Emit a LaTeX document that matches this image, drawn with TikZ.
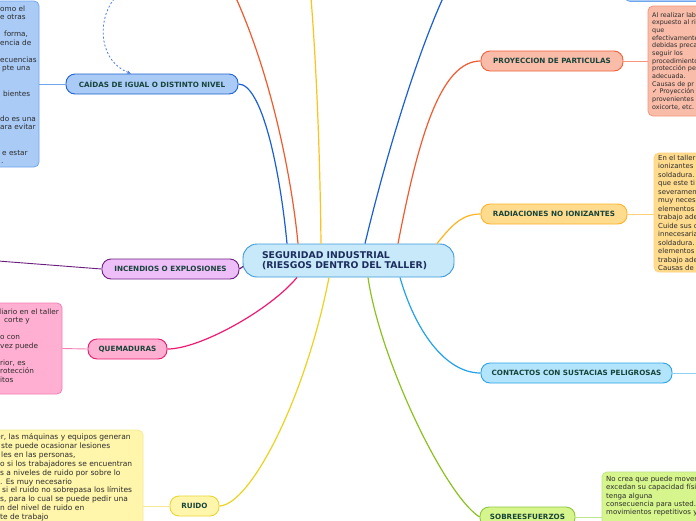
\documentclass[tikz,border=0pt]{standalone}
\usepackage{fontspec}
\setmainfont{DejaVu Sans}
\usetikzlibrary{arrows.meta,calc}
\definecolor{cBlue}{HTML}{A9CBF6}
\definecolor{cBlueD}{HTML}{1F62D0}
\definecolor{cBlueL}{HTML}{6EA6EE}
\definecolor{cPurp}{HTML}{EDBEF8}
\definecolor{cPurpD}{HTML}{6C1F7F}
\definecolor{cPink}{HTML}{FFAFD2}
\definecolor{cPinkD}{HTML}{E8186C}
\definecolor{cPinkL}{HTML}{F47DB2}
\definecolor{cYel}{HTML}{FFF6AC}
\definecolor{cYelD}{HTML}{EBD531}
\definecolor{cYelL}{HTML}{F6EA94}
\definecolor{cGrn}{HTML}{D6F58C}
\definecolor{cGrnD}{HTML}{8DC63F}
\definecolor{cGrnL}{HTML}{BFE58A}
\definecolor{cCyan}{HTML}{B2E5FB}
\definecolor{cCyanD}{HTML}{2BA3E6}
\definecolor{cCyanL}{HTML}{8ED0F3}
\definecolor{cOra}{HTML}{FFDB8E}
\definecolor{cOraD}{HTML}{FFB32A}
\definecolor{cOraL}{HTML}{FFD27A}
\definecolor{cSal}{HTML}{F9BCA9}
\definecolor{cSalD}{HTML}{F0603A}
\definecolor{cSalL}{HTML}{F5957A}
\definecolor{cCen}{HTML}{C7E9FA}
\definecolor{cCenD}{HTML}{3E99DA}
\definecolor{labtxt}{HTML}{17443A}
\definecolor{centxt}{HTML}{1C2C5C}
\definecolor{bodytxt}{HTML}{2B2B2B}
\definecolor{lnBlue}{HTML}{1A5FD6}
\definecolor{lnOrg}{HTML}{F25A2E}
\definecolor{lnYel}{HTML}{FFC21A}
\definecolor{lnRuido}{HTML}{EBD320}
\definecolor{lnGrn}{HTML}{8BC21F}
\definecolor{lnCyan}{HTML}{22A2E8}
\definecolor{lnRad}{HTML}{FFB41E}
\definecolor{lnPink}{HTML}{EE1A72}
\definecolor{lnPurp}{HTML}{6A1D7E}
\definecolor{dashBlue}{HTML}{4A7BE0}
\begin{document}
\begin{tikzpicture}[x=1pt,y=-1pt,
  branch/.style={draw, rounded corners=9pt, line width=0.9pt, minimum height=20pt, inner sep=0pt,
    font=\fontsize{7.2}{8}\selectfont\bfseries, text=labtxt},
  notebox/.style={rounded corners=5pt, line width=0.8pt, inner sep=0pt},
  conn/.style={line width=1.2pt},
  link/.style={line width=0.9pt},
  bodyA/.style={anchor=base west, inner sep=0pt, text=bodytxt, font=\fontsize{7.3}{8}\selectfont},
  bodyY/.style={anchor=base west, inner sep=0pt, text=bodytxt, font=\fontsize{7.5}{8}\selectfont},
  bodyS/.style={anchor=base west, inner sep=0pt, text=bodytxt, font=\fontsize{6.4}{7}\selectfont},
  bodyR/.style={anchor=base west, inner sep=0pt, text=bodytxt, font=\fontsize{6.9}{7}\selectfont},
  bodyG/.style={anchor=base west, inner sep=0pt, text=bodytxt, font=\fontsize{7}{8}\selectfont}]
\useasboundingbox (0,0) rectangle (696,520);
\fill[white] (0,0) rectangle (696,520);

% note boxes
\node[notebox, fill=cBlue, draw=cBlueL, minimum width=95pt, minimum height=41pt] (topbox) at (672.5,-19) {};
\node[notebox, fill=cBlue, draw=cBlueL, minimum width=49pt, minimum height=166pt] (cbox) at (14.5,84) {};
\node[notebox, fill=cPink, draw=cPinkL, minimum width=72pt, minimum height=91pt] (qbox) at (26,348.5) {};
\node[notebox, fill=cYel, draw=cYelL, minimum width=153pt, minimum height=152pt] (rbox) at (66.5,506) {};
\node[notebox, fill=cSal, draw=cSalL, minimum width=62pt, minimum height=110pt] (pbox) at (679,61) {};
\node[notebox, fill=cOra, draw=cOraL, minimum width=56pt, minimum height=119pt] (radbox) at (682,212.5) {};
\node[notebox, fill=cGrn, draw=cGrnL, minimum width=100pt, minimum height=90pt] (sbox) at (652,517) {};

% central node
\node[draw=cCenD, fill=cCen, line width=0.9pt, rounded corners=14pt, minimum height=33pt,
  text width=173pt, inner xsep=19pt, inner ysep=0pt, align=left,
  font=\fontsize{9.3}{10.5}\selectfont\bfseries, text=centxt] (central) at (348.5,260.5)
  {SEGURIDAD INDUSTRIAL\\(RIESGOS DENTRO DEL TALLER)};

% branch nodes
\node[branch, fill=cBlue, draw=cBlueD, minimum width=172pt] (caidas) at (152,84) {CAÍDAS DE IGUAL O DISTINTO NIVEL};
\node[branch, fill=cPurp, draw=cPurpD, minimum width=137pt] (incendios) at (170.5,269) {INCENDIOS O EXPLOSIONES};
\node[branch, fill=cPink, draw=cPinkD, minimum width=79pt] (quem) at (127.5,349) {QUEMADURAS};
\node[branch, fill=cYel, draw=cYelD, minimum width=49pt] (ruido) at (194.5,506) {RUIDO};
\node[branch, fill=cGrn, draw=cGrnD, minimum width=95pt] (sobre) at (527.5,517) {SOBREESFUERZOS};
\node[branch, fill=cCyan, draw=cCyanD, minimum width=191pt] (contactos) at (576.5,373) {CONTACTOS CON SUSTACIAS PELIGROSAS};
\node[branch, fill=cOra, draw=cOraD, minimum width=146pt] (radia) at (554,214) {RADIACIONES NO IONIZANTES};
\node[branch, fill=cSal, draw=cSalD, minimum width=142pt] (proy) at (552,61) {PROYECCION DE PARTICULAS};

% free ends
\coordinate (offOrg) at (236,-2);
\coordinate (offYel) at (311,-2);
\coordinate (offBlue) at (443,-2);
\coordinate (contR) at (700,373);
\coordinate (incL) at (-2,261);
\coordinate (dashS) at (114,-1);
\coordinate (dashE) at (131,73.5);

% links node -> note
\draw[cBlueL, link] (caidas.west) -- (cbox.east);
\draw[cPinkL, link] (quem.west) -- (qbox.east);
\draw[cYelL, link] (ruido.west) -- (rbox.east);
\draw[cSalL, link] (proy.east) -- (pbox.west);
\draw[cOraL, link] (radia.east) -- (radbox.west |- radia.east);
\draw[cGrnL, link] (sobre.east) -- (sbox.west);
\draw[cCyanL, link] (contactos.east) -- (contR);
\draw[lnPurp, line width=0.9pt] (incendios.west) -- (incL);

% central connectors
\draw[lnBlue, conn] (caidas.east) .. controls (262,84) and (280,170) .. ($(central.north)+(-61.5,0)$);
\draw[lnPurp, conn] (incendios.east) -- ($(central.west)+(0.5,6)$);
\draw[lnPink, conn] (quem.east) .. controls (200,349) and (270,310) .. ($(central.south)+(-51.5,0)$);
\draw[lnRuido, conn] (ruido.east) .. controls (250,505) and (305,400) .. ($(central.south)+(-19.5,0)$);
\draw[lnGrn, conn] ($(central.south)+(19.5,0)$) .. controls (380,360) and (445,495) .. (sobre.west);
\draw[lnCyan, conn] ($(central.south)+(51.5,0)$) .. controls (415,330) and (445,373) .. (contactos.west);
\draw[lnRad, conn] ($(central.north)+(88.5,0)$) .. controls (452,225) and (462,214) .. (radia.west);
\draw[lnOrg, conn] ($(central.north)+(49.5,0)$) .. controls (418,140) and (440,61) .. (proy.west);
\draw[lnBlue, conn] ($(central.north)+(16.5,0)$) .. controls (385,160) and (415,60) .. (offBlue);
\draw[lnYel, conn] ($(central.north)+(-27.5,0)$) .. controls (320,150) and (316,60) .. (offYel);
\draw[lnOrg, conn] ($(central.north)+(-50.5,0)$) .. controls (293,190) and (275,85) .. (offOrg);

% dashed relation
\draw[dashBlue, line width=0.8pt, dash pattern=on 2pt off 2pt, -{Stealth[length=4pt,width=3.5pt]}]
  (dashS) .. controls (96,22) and (100,62) .. (dashE);

% note texts: caidas
\foreach \xx/\yy/\tt [count=\i] in {0/11.5/omo el, 0/19.95/e otras, 4/36.85/{forma,}, 0/45.3/encia de,
  0/62.2/ecuencias, 2/70.65/pte una, 3/96/bientes, 0/121.35/do es una, 0/129.8/ara evitar,
  2/155.15/e estar, 1/163.6/.}
  {\node[bodyA] (tc\i) at (\xx,\yy) {\tt};}
% quemaduras
\foreach \xx/\yy/\tt [count=\i] in {-3.5/314.5/diario en el taller, 4/322.95/corte y, 0/339.85/o con,
  0/348.3/vez puede, 0/365.2/{rior, es}, 0/373.65/rotección, 0/382.1/itos}
  {\node[bodyA] (tq\i) at (\xx,\yy) {\tt};}
% ruido
\foreach \xx/\yy/\tt [count=\i] in {-4/439.5/{er, las máquinas y equipos generan}, 1/448.4/ste puede ocasionar lesiones,
  1/457.3/{les en las personas,}, 0/466.2/o si los trabajadores se encuentran,
  0/475.1/s a niveles de ruido por sobre lo, 0/484/. Es muy necesario,
  2/492.9/si el ruido no sobrepasa los límites, 0/501.8/{s, para lo cual se puede pedir una},
  0/510.7/n del nivel de ruido en, 0/519.6/te de trabajo}
  {\node[bodyY] (tr\i) at (\xx,\yy) {\tt};}
% proyeccion
\foreach \tt [count=\i] in {Al realizar lab, expuesto al ri, que, efectivamente, debidas precau, seguir los,
  procedimiento, protección pe, adecuada., Causas de pr, ✓ Proyección, provenientes, {oxicorte, etc.}}
  {\node[bodyS] (tp\i) at (652,{17+7.67*(\i-1)}) {\tt};}
% radiaciones
\foreach \tt [count=\i] in {En el taller, ionizantes, soldadura., que este ti, severamen, muy neces,
  elementos, trabajo ade, Cuide sus c, innecesaria, soldadura., elementos, trabajo ade, Causas de}
  {\node[bodyR] (td\i) at (658,{160+8.5*(\i-1)}) {\tt};}
% sobreesfuerzos
\foreach \tt [count=\i] in {No crea que puede mover, excedan su capacidad físi, tenga alguna,
  consecuencia para usted., movimientos repetitivos y}
  {\node[bodyG] (ts\i) at (606,{481.5+8.3*(\i-1)}) {\tt};}
\end{tikzpicture}
\end{document}
